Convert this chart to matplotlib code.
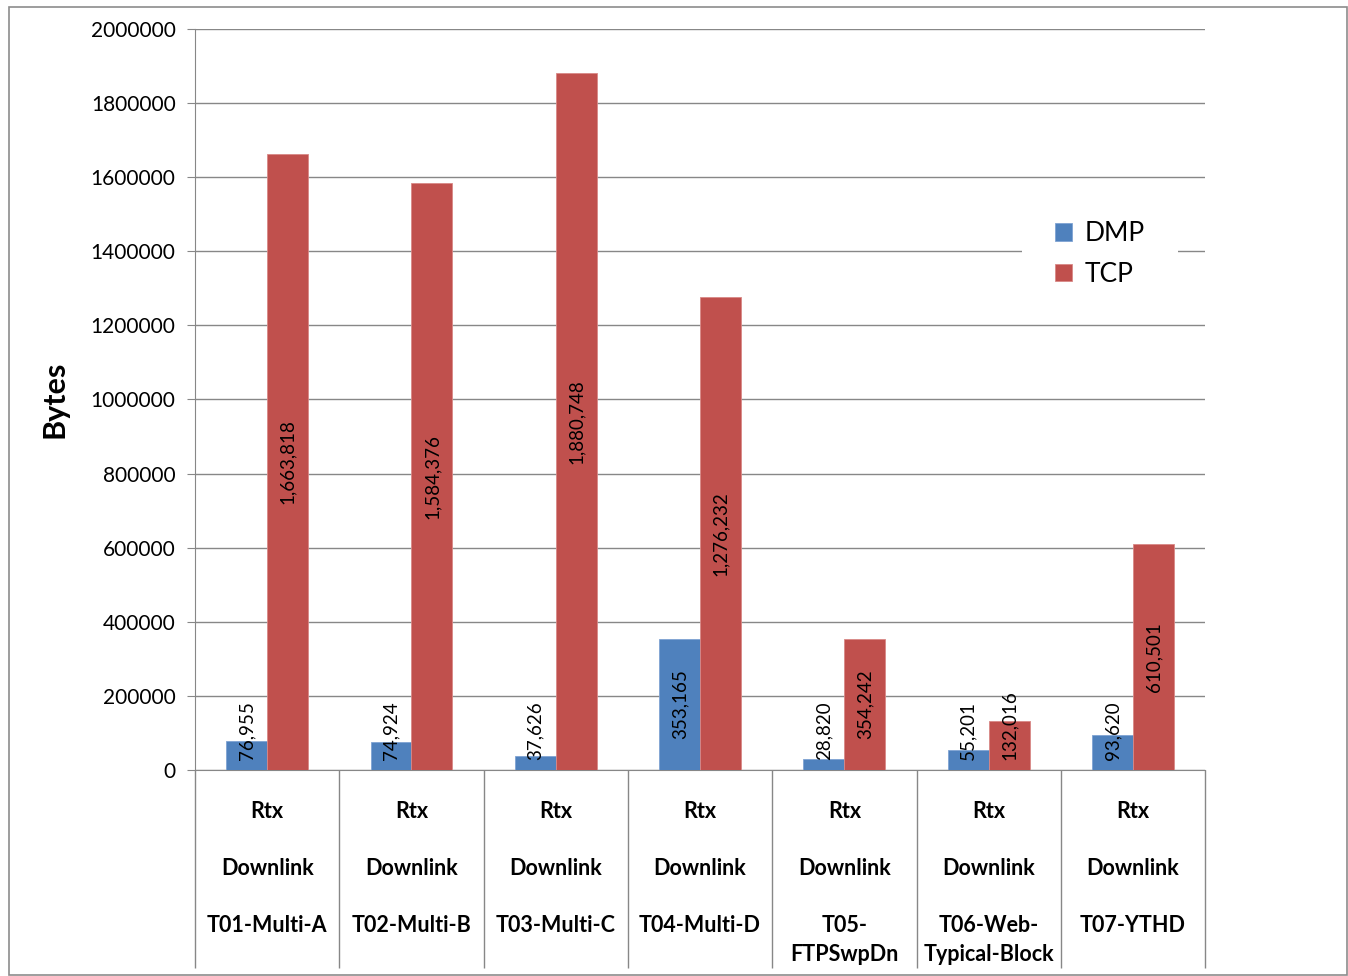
import numpy as np
import matplotlib.pyplot as plt
from matplotlib.patches import Rectangle

plt.rcParams['font.family'] = ['Lato', 'DejaVu Sans']

tests = ['T01-Multi-A', 'T02-Multi-B', 'T03-Multi-C', 'T04-Multi-D',
         'T05-\nFTPSwpDn', 'T06-Web-\nTypical-Block', 'T07-YTHD']
dmp = [76955, 74924, 37626, 353165, 28820, 55201, 93620]
tcp = [1663818, 1584376, 1880748, 1276232, 354242, 132016, 610501]
yticks = [0, 200000, 400000, 600000, 800000, 1000000, 1200000,
          1400000, 1600000, 1800000, 2000000]

blue = '#4F81BD'
red = '#C0504D'
grey = '#878787'

fig = plt.figure(figsize=(13.48, 9.76), dpi=100)
ax = fig.add_axes([0.1447, 0.2111, 0.7493, 0.7592])

x = np.arange(len(tests))
w = 0.284
b1 = ax.bar(x - w / 2, dmp, w, color=blue, edgecolor='#7fa3d3', linewidth=0.6, label='DMP', zorder=3)
b2 = ax.bar(x + w / 2, tcp, w, color=red, edgecolor='#d98886', linewidth=0.6, label='TCP', zorder=3)

ax.set_xlim(-0.5, len(tests) - 0.5)
ax.set_ylim(0, 2000000)
ax.set_yticks(yticks)
ax.set_yticklabels([str(v) for v in yticks], fontsize=15)
ax.yaxis.grid(True, color=grey, linewidth=1, zorder=0)
ax.tick_params(axis='y', length=6, color=grey, pad=8)

labels = ['Rtx\n\nDownlink\n\n' + t for t in tests]
ax.set_xticks(x)
ax.set_xticklabels(labels, fontsize=15.5, fontweight='bold', va='top', linespacing=1.45)
ax.tick_params(axis='x', length=0, pad=22)

for s in ['top', 'right']:
    ax.spines[s].set_visible(False)
ax.spines['left'].set_color(grey)
ax.spines['bottom'].set_color(grey)

# category boxes under the x axis
ax.vlines(np.arange(len(tests) + 1) - 0.5, -0.267, 0, colors=grey, linewidth=1,
          transform=ax.get_xaxis_transform(), clip_on=False)

ax.set_ylabel('Bytes', fontsize=22, fontweight='bold', labelpad=16)

# value labels, centred in the bar unless the bar is too short
texts = []
for bars, vals in [(b1, dmp), (b2, tcp)]:
    for bar, v in zip(bars, vals):
        xc = bar.get_x() + bar.get_width() / 2
        t = ax.text(xc, v / 2, f'{v:,}', rotation=90, ha='center', va='center',
                    fontsize=13.5, zorder=4)
        texts.append(t)

fig.canvas.draw()
base = ax.transData.transform((0, 0))[1]
for t in texts:
    bb = t.get_window_extent()
    if bb.y0 < base + 10:
        yc = ax.transData.inverted().transform((0, base + 10 + bb.height / 2))[1]
        t.set_y(yc)

# white area behind the legend, hides the gridline there
ax.add_patch(Rectangle((1022 / 1348, 1 - 292 / 976), 156 / 1348, 78 / 976,
                       transform=fig.transFigure, facecolor='white',
                       edgecolor='none', zorder=2, clip_on=False))
leg = ax.legend(loc='center', bbox_to_anchor=(1100 / 1348, 1 - 254 / 976),
                bbox_transform=fig.transFigure, fontsize=19, frameon=False,
                handlelength=0.65, handleheight=0.65, handletextpad=0.5,
                labelspacing=0.6, borderpad=0.5, borderaxespad=0)

fig.patches.append(Rectangle((9 / 1348, 1 / 976), 1338 / 1348, 968 / 976,
                             transform=fig.transFigure, fill=False,
                             edgecolor='#8c8c8c', linewidth=1.2))

fig.savefig('out.png', dpi=100)
